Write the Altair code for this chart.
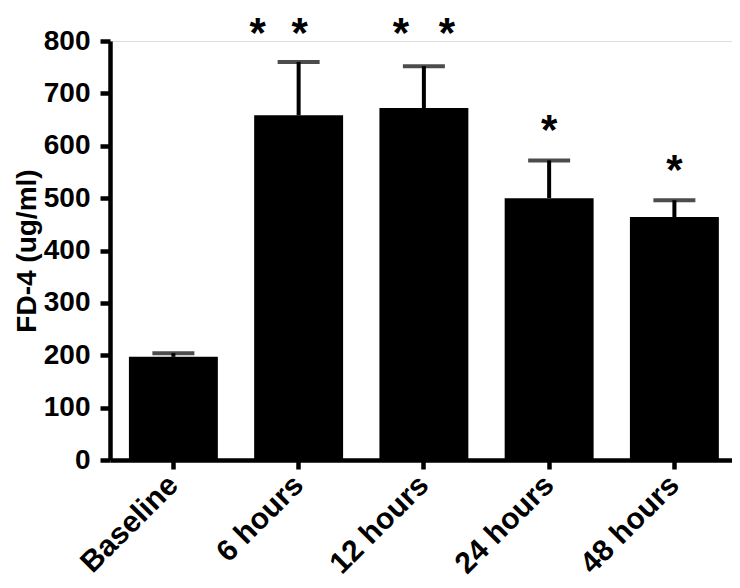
import altair as alt
import pandas as pd

categories = ["Baseline", "6 hours", "12 hours", "24 hours", "48 hours"]
means = [197, 658, 672, 500, 464]
upper = [204, 760, 752, 572, 496]
star_level = [None, 851, 852, 666, 590]

FONT = "Liberation Sans"

df = pd.DataFrame({"cat": categories, "mean": means, "upper": upper, "star": star_level})

xenc = alt.X("cat:N", sort=categories, title=None,
             scale=alt.Scale(paddingInner=0.29, paddingOuter=0.128, align=0.59),
             axis=alt.Axis(labelAngle=-45, labelAlign="right", labelBaseline="middle",
                           labelFontSize=30, labelFont=FONT, labelFontWeight="bold",
                           labelColor="black", labelPadding=11, tickSize=9, tickWidth=4.5,
                           tickColor="black", domainWidth=4.5, domainColor="black"))
yscale = alt.Scale(domain=[0, 800], nice=False)
yaxis = alt.Axis(values=list(range(0, 801, 100)), title="FD-4 (ug/ml)", titleFont=FONT,
                 titleFontSize=28, titleFontWeight="bold", titleColor="black", titlePadding=2,
                 labelFont=FONT, labelFontSize=28, labelFontWeight="bold", labelColor="black",
                 labelPadding=10, tickSize=10, tickWidth=4.5, tickColor="black",
                 domainWidth=4.5, domainColor="black", grid=False)

base = alt.Chart(df)
bars = base.mark_bar(color="black").encode(
    x=xenc, y=alt.Y("mean:Q", scale=yscale, axis=yaxis))
err = base.mark_rule(color="black", strokeWidth=4).encode(
    x=alt.X("cat:N", sort=categories), y="mean:Q", y2="upper:Q")
cap = base.mark_tick(color="black", size=42, thickness=4).encode(
    x=alt.X("cat:N", sort=categories), y="upper:Q")

def stars(filter_cats, dx):
    return base.transform_filter(
        alt.FieldOneOfPredicate(field="cat", oneOf=filter_cats)
    ).mark_text(text="*", font=FONT, fontSize=42, fontWeight="bold", color="black",
                baseline="top", dx=dx).encode(
        x=alt.X("cat:N", sort=categories), y="star:Q")

s1 = stars(["6 hours"], -41)
s2 = stars(["6 hours"], 1)
s3 = stars(["12 hours"], -23)
s4 = stars(["12 hours"], 23)
s5 = stars(["24 hours", "48 hours"], 0)

chart = alt.layer(bars, err, cap, s1, s2, s3, s4, s5).properties(
    width=622, height=419,
    padding={"left": 102, "top": 33, "right": 0, "bottom": 120},
    autosize=alt.AutoSizeParams(type="none")
).configure_view(stroke=None).configure(background="white")

chart.save("out.html", embed_options={"renderer": "svg", "actions": False})
